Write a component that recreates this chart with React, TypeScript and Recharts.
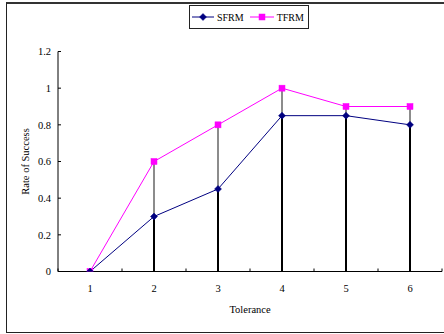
import React from 'react';
import { ComposedChart, Line, XAxis, YAxis, ReferenceLine, Legend, Label } from 'recharts';

const tolerance = [1, 2, 3, 4, 5, 6];
const sfrm = [0, 0.3, 0.45, 0.85, 0.85, 0.8];
const tfrm = [0, 0.6, 0.8, 1.0, 0.9, 0.9];
const yTicks = [0, 0.2, 0.4, 0.6, 0.8, 1, 1.2];
const seriesNames = ['SFRM', 'TFRM'];

const data = tolerance.map((t, i) => ({ t, SFRM: sfrm[i], TFRM: tfrm[i] }));
const xTicks = [tolerance[0] - 0.5, ...tolerance.flatMap((t) => [t, t + 0.5])];

const FONT = '"Liberation Serif", "Times New Roman", serif';
const NAVY = '#000080';
const PINK = '#FF00FF';
const X_TICK_MARGIN = 13;
const Y_TICK_MARGIN = 7;

const Diamond = (props: any) => {
  const { cx, cy } = props;
  if (cx == null || cy == null) return null;
  const r = 3.5;
  return (
    <path
      d={`M${cx},${cy - r}L${cx + r},${cy}L${cx},${cy + r}L${cx - r},${cy}Z`}
      fill={NAVY}
      stroke={NAVY}
      strokeWidth={0.5}
    />
  );
};

const Square = (props: any) => {
  const { cx, cy } = props;
  if (cx == null || cy == null) return null;
  const r = 3;
  return <rect x={cx - r} y={cy - r} width={2 * r} height={2 * r} fill={PINK} stroke={PINK} strokeWidth={0.5} />;
};

const XTick = (props: any) => {
  const { x, y, payload } = props;
  const v = payload.value;
  if (Number.isInteger(v)) {
    return (
      <text x={x} y={y} dy="0.71em" textAnchor="middle" fontFamily={FONT} fontSize={10.5} fill="#000">
        {v}
      </text>
    );
  }
  const axisY = y - X_TICK_MARGIN;
  return <line x1={x} x2={x} y1={axisY} y2={axisY - 3} stroke="#000" strokeWidth={1} />;
};

const YTick = (props: any) => {
  const { x, y, payload } = props;
  const axisX = x + Y_TICK_MARGIN;
  return (
    <g>
      <text x={x} y={y} dy="0.355em" textAnchor="end" fontFamily={FONT} fontSize={10.5} fill="#000">
        {payload.value}
      </text>
      <line x1={axisX} x2={axisX + 3} y1={y} y2={y} stroke="#000" strokeWidth={1} />
    </g>
  );
};

const YLabel = (props: any) => {
  const vb = props.viewBox || {};
  const cx = (vb.x ?? 0) + 25.5;
  const cy = (vb.y ?? 0) + (vb.height ?? 0) / 2;
  return (
    <text
      x={cx}
      y={cy}
      dy="0.355em"
      transform={`rotate(-90 ${cx} ${cy})`}
      textAnchor="middle"
      fontFamily={FONT}
      fontSize={10.5}
      fill="#000"
    >
      Rate of Success
    </text>
  );
};

const XLabel = (props: any) => {
  const vb = props.viewBox || {};
  const cx = (vb.x ?? 0) + (vb.width ?? 0) / 2;
  const cy = (vb.y ?? 0) + 41;
  return (
    <text x={cx} y={cy} textAnchor="middle" fontFamily={FONT} fontSize={10.5} fill="#000">
      Tolerance
    </text>
  );
};

const LegendContent = () => (
  <div
    style={{
      boxSizing: 'border-box',
      width: 120,
      height: 24,
      border: '1px solid #222',
      display: 'flex',
      alignItems: 'center',
      paddingLeft: 2,
      fontFamily: FONT,
      fontSize: 10,
      color: '#000',
      background: '#fff',
    }}
  >
    <svg width={22} height={10} style={{ display: 'block' }}>
      <line x1={0} x2={22} y1={5} y2={5} stroke={NAVY} strokeWidth={1} />
      <Diamond cx={11} cy={5} />
    </svg>
    <span style={{ marginLeft: 3 }}>{seriesNames[0]}</span>
    <svg width={24} height={10} style={{ display: 'block', marginLeft: 6 }}>
      <line x1={0} x2={24} y1={5} y2={5} stroke={PINK} strokeWidth={1} />
      <Square cx={12} cy={5} />
    </svg>
    <span style={{ marginLeft: 3 }}>{seriesNames[1]}</span>
  </div>
);

export default function App() {
  return (
    <div style={{ position: 'absolute', left: 0, top: 0, width: 444, height: 334, overflow: 'hidden', background: '#fff' }}>
      <div
        style={{
          position: 'absolute',
          left: 6,
          top: 2,
          width: 500,
          height: 328,
          borderTop: '2px solid #333',
          borderLeft: '1px solid #222',
          borderBottom: '1px solid #222',
        }}
      />
      <div style={{ position: 'absolute', left: 0, top: 0 }}>
        <ComposedChart width={444} height={334} data={data} margin={{ top: 51.5, right: 2, bottom: 32.5, left: 0 }}>
          <XAxis
            dataKey="t"
            type="number"
            domain={[xTicks[0], xTicks[xTicks.length - 1]]}
            ticks={xTicks}
            interval={0}
            height={30}
            tickSize={0}
            tickMargin={X_TICK_MARGIN}
            tickLine={false}
            tick={<XTick />}
            axisLine={{ stroke: '#000', strokeWidth: 1 }}
            allowDataOverflow
          >
            <Label content={<XLabel />} />
          </XAxis>
          <YAxis
            type="number"
            domain={[0, 1.2]}
            ticks={yTicks}
            interval={0}
            width={58}
            tickSize={0}
            tickMargin={Y_TICK_MARGIN}
            tickLine={false}
            tick={<YTick />}
            axisLine={{ stroke: '#000', strokeWidth: 1 }}
            allowDataOverflow
          >
            <Label content={<YLabel />} />
          </YAxis>
          {data.map((d) => (
            <ReferenceLine
              key={'hi' + d.t}
              segment={[
                { x: d.t, y: d.SFRM },
                { x: d.t, y: d.TFRM },
              ]}
              stroke="#666"
              strokeWidth={1.5}
            />
          ))}
          {data.map((d) => (
            <ReferenceLine
              key={'lo' + d.t}
              segment={[
                { x: d.t, y: 0 },
                { x: d.t, y: d.SFRM },
              ]}
              stroke="#000"
              strokeWidth={2}
            />
          ))}
          <Line
            dataKey="TFRM"
            name={seriesNames[1]}
            stroke={PINK}
            strokeWidth={1}
            dot={(p: any) => <Square key={'s' + p.index} {...p} />}
            activeDot={false}
            isAnimationActive={false}
          />
          <Line
            dataKey="SFRM"
            name={seriesNames[0]}
            stroke={NAVY}
            strokeWidth={1}
            dot={(p: any) => <Diamond key={'d' + p.index} {...p} />}
            activeDot={false}
            isAnimationActive={false}
          />
          <Legend
            layout="horizontal"
            verticalAlign="middle"
            align="center"
            content={<LegendContent />}
            wrapperStyle={{ position: 'absolute', left: 189, top: 5, width: 120, height: 24 }}
          />
        </ComposedChart>
      </div>
    </div>
  );
}
